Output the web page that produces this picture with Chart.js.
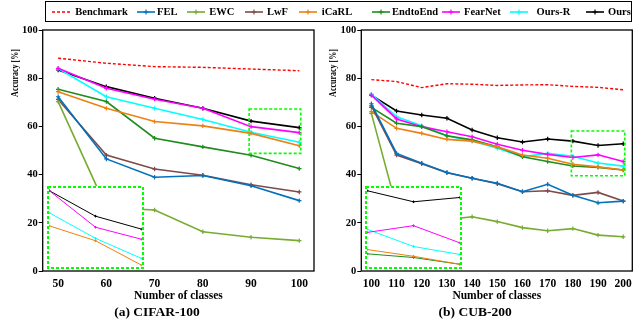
<!DOCTYPE html>
<html><head><meta charset="utf-8">
<script src="https://cdn.jsdelivr.net/npm/chart.js@4.4.0/dist/chart.umd.min.js"></script>
<style>
body{margin:0;background:#fff;}
#wrap{position:relative;width:637px;height:323px;overflow:hidden;background:#fff;font-family:'Liberation Serif','Times New Roman',serif;color:#000;}
canvas{position:absolute;}
.inset{background:#fff;}
.ylab{position:absolute;width:70px;height:12px;line-height:12px;text-align:center;font-weight:bold;font-size:10px;transform:rotate(-90deg) scaleX(0.8);white-space:nowrap;}
#legend{position:absolute;left:45px;top:1px;width:587px;height:21px;border:1.3px solid #000;box-sizing:border-box;}
.li{position:absolute;top:0;height:19px;line-height:19px;font-weight:bold;font-size:10.5px;white-space:nowrap;}
.ls{position:absolute;top:4.5px;}
</style></head>
<body><div id="wrap">
<canvas id="cA" width="318" height="323" style="left:0;top:0"></canvas>
<canvas id="cB" width="319" height="323" style="left:318px;top:0"></canvas>
<canvas id="iA" class="inset" width="97" height="83" style="left:47px;top:186px"></canvas>
<canvas id="iB" class="inset" width="97" height="83" style="left:365px;top:186px"></canvas>
<div class="ylab" style="left:-20px;top:67px">Accuracy [%]</div>
<div class="ylab" style="left:298px;top:67px">Accuracy [%]</div>
<div id="legend"></div>
</div>
<script>
// ---------- data ----------
const seriesNames = ['Benchmark','FEL','EWC','LwF','iCaRL','EndtoEnd','FearNet','Ours-R','Ours'];
const yTicks = [0,20,40,60,80,100];

const classesA = [50,60,70,80,90,100];
const xTicksA = [50,60,70,80,90,100];
const benchmarkA = [88.3,86.2,84.8,84.5,83.8,83.1];
const felA       = [72.3,46.5,38.9,39.6,35.4,29.2];
const ewcA       = [70.3,26.3,25.3,16.3,14.0,12.6];
const lwfA       = [71.2,48.1,42.3,39.7,35.8,32.8];
const icarlA     = [74.4,67.5,62.0,60.2,57.1,52.0];
const e2eA       = [75.4,70.3,55.1,51.5,48.0,42.5];
const fearnetA   = [84.1,75.8,71.3,67.5,59.9,57.4];
const oursRA     = [84.0,72.3,67.5,62.9,57.6,53.4];
const oursA      = [83.4,76.5,71.7,67.5,62.2,59.5];

const classesB = [100,110,120,130,140,150,160,170,180,190,200];
const xTicksB = [100,110,120,130,140,150,160,170,180,190,200];
const benchmarkB = [79.4,78.6,76.1,77.7,77.5,77.0,77.2,77.3,76.6,76.2,75.2];
const felB       = [69.4,48.8,44.7,40.9,38.5,36.4,32.9,36.0,31.4,28.3,29.0];
const ewcB       = [65.4,26.5,23.5,21.3,22.5,20.5,18.0,16.7,17.6,14.9,14.2];
const lwfB       = [68.5,48.1,44.5,40.8,38.5,36.2,32.9,33.3,31.4,32.6,29.0];
const icarlB     = [66.1,59.2,57.1,54.6,53.9,51.5,48.1,46.8,44.3,43.2,41.9];
const e2eB       = [67.9,61.3,59.9,56.1,54.4,51.6,47.4,45.4,43.6,43.0,41.9];
const fearnetB   = [73.0,63.1,59.9,57.8,55.7,52.6,50.1,48.4,47.1,48.2,45.4];
const oursRB     = [73.4,64.0,60.3,56.1,53.9,50.9,47.4,48.8,47.6,44.8,43.5];
const oursB      = [73.0,66.4,64.7,63.4,58.5,55.3,53.5,54.8,53.9,52.1,52.8];

// zoomed regions (data space)
const zoomBoxA = {x:[89.6,100.3], y:[48.8,67.2]};
const zoomBoxB = {x:[179.4,200.6], y:[39.5,58.1]};
const insetRangeA = {x:[80,100], y:[51.7,68.0], series:['iCaRL','FearNet','Ours-R','Ours']};
const insetRangeB = {x:[180,200], y:[41.5,54.3], series:['iCaRL','EndtoEnd','FearNet','Ours-R','Ours']};

// ---------- styles ----------
const colors = ['#ff0000','#0072BD','#77AC30','#7E4B4B','#EE8012','#1E8C1E','#FF00FF','#00FFFF','#000000'];
const FONT = "'Liberation Serif','Times New Roman',serif";

function buildSets(xs, vals, thin, only){
  const out=[];
  seriesNames.forEach((n,i)=>{
    if(only && only.indexOf(n)<0) return;
    const bench = i===0;
    out.push({
      label:n,
      data: xs.map((x,j)=>({x:x,y:vals[i][j]})),
      borderColor: colors[i], backgroundColor: colors[i],
      borderWidth: thin?1:(bench?1.4:1.6),
      borderDash: bench?[3,2]:[],
      pointStyle:'cross',
      pointRadius: bench?0:(thin?1.3:2.2),
      pointBorderWidth: thin?1:1.2,
      pointHoverRadius:0,
      tension:0, fill:false
    });
  });
  return out;
}

const framePlugin = {
  id:'frame',
  afterDatasetsDraw(chart, args, opts){
    const {ctx, chartArea:a, scales} = chart;
    ctx.save();
    if(opts.zoom){
      const z=opts.zoom;
      const x1=scales.x.getPixelForValue(z.x[0]), x2=scales.x.getPixelForValue(z.x[1]);
      const y1=scales.y.getPixelForValue(z.y[1]), y2=scales.y.getPixelForValue(z.y[0]);
      ctx.strokeStyle='#00ff00'; ctx.lineWidth=1.6; ctx.setLineDash([3,2]);
      ctx.strokeRect(x1,y1,x2-x1,y2-y1);
      ctx.setLineDash([]);
    }
    ctx.strokeStyle='#000'; ctx.lineWidth=1.3;
    ctx.strokeRect(a.left,a.top,a.right-a.left,a.bottom-a.top);
    ctx.restore();
  }
};

const insetBorder = {
  id:'insetBorder',
  afterDraw(chart){
    const {ctx,width,height}=chart;
    ctx.save();
    ctx.strokeStyle='#00ff00'; ctx.lineWidth=2; ctx.setLineDash([3,2]);
    ctx.strokeRect(1,1,width-2,height-2);
    ctx.restore();
  }
};

function mainChart(id, xs, vals, xTicks, xmin, xmax, ywidth, rpad, subtitle, zoom){
  return new Chart(document.getElementById(id), {
    type:'line',
    data:{datasets: buildSets(xs, vals, false)},
    plugins:[framePlugin],
    options:{
      responsive:false, animation:false, devicePixelRatio:1,
      layout:{padding:{top:30,right:rpad,left:0,bottom:0}},
      plugins:{
        legend:{display:false}, tooltip:{enabled:false},
        title:{display:true, position:'bottom', text:subtitle, color:'#000',
               font:{family:FONT, weight:'bold', size:13.5}, padding:{top:0,bottom:2}},
        frame:{zoom:zoom}
      },
      scales:{
        x:{type:'linear', min:xmin, max:xmax,
           afterBuildTicks:s=>{s.ticks = xTicks.map(v=>({value:v}));},
           afterFit:s=>{s.height=33.8;},
           ticks:{color:'#000', font:{family:FONT, weight:'bold', size:11.5}, padding:3, maxRotation:0, autoSkip:false},
           grid:{display:false, drawTicks:true, tickLength:3},
           border:{display:false},
           title:{display:true, text:'Number of classes', color:'#000',
                  font:{family:FONT, weight:'bold', size:11.5}, padding:{top:0,bottom:2}}
        },
        y:{min:0, max:100,
           afterBuildTicks:s=>{s.ticks = yTicks.map(v=>({value:v}));},
           afterFit:s=>{s.width=ywidth;},
           ticks:{color:'#000', font:{family:FONT, weight:'bold', size:10.5}, padding:1},
           grid:{drawOnChartArea:false, color:'#000', tickLength:4, lineWidth:1},
           border:{display:false}
        }
      }
    }
  });
}

function insetChart(id, xs, vals, rng){
  return new Chart(document.getElementById(id), {
    type:'line',
    data:{datasets: buildSets(xs, vals, true, rng.series)},
    plugins:[insetBorder],
    options:{
      responsive:false, animation:false, devicePixelRatio:1,
      layout:{padding:1},
      plugins:{legend:{display:false}, tooltip:{enabled:false}},
      scales:{
        x:{type:'linear', display:false, min:rng.x[0], max:rng.x[1]},
        y:{display:false, min:rng.y[0], max:rng.y[1]}
      }
    }
  });
}

const valsA = [benchmarkA,felA,ewcA,lwfA,icarlA,e2eA,fearnetA,oursRA,oursA];
const valsB = [benchmarkB,felB,ewcB,lwfB,icarlB,e2eB,fearnetB,oursRB,oursB];

mainChart('cA', classesA, valsA, xTicksA, 46.8, 103.05, 42.7, 4, '(a) CIFAR-100', zoomBoxA);
mainChart('cB', classesB, valsB, xTicksB, 96.0, 203.6, 43.3, 4.7, '(b) CUB-200', zoomBoxB);
insetChart('iA', classesA, valsA, insetRangeA);
insetChart('iB', classesB, valsB, insetRangeB);

// ---------- legend ----------
const legX = [5.7, 91, 141, 199.3, 253.3, 325.6, 396, 464, 539.5];   // line start, relative to box
const legT = [29.3, 111, 163.3, 221, 275.8, 346, 418, 490.5, 562];   // text start
const lg = document.getElementById('legend');
seriesNames.forEach((n,i)=>{
  const dash = i===0 ? 'stroke-dasharray="3,2"' : '';
  const mk = i===0 ? '' : `<path d="M6.5 5 H11.5 M9 2.5 V7.5" stroke="${colors[i]}" stroke-width="1.2"/>`;
  const s = document.createElement('div');
  s.className='li';
  s.style.left = legX[i]+'px';
  s.innerHTML = `<svg class="ls" width="18" height="10" style="left:0"><line x1="0" y1="5" x2="18" y2="5" stroke="${colors[i]}" stroke-width="1.6" ${dash}/>${mk}</svg>`;
  lg.appendChild(s);
  const t = document.createElement('div');
  t.className='li'; t.style.left = legT[i]+'px'; t.textContent = n;
  lg.appendChild(t);
});
</script>
</body></html>
